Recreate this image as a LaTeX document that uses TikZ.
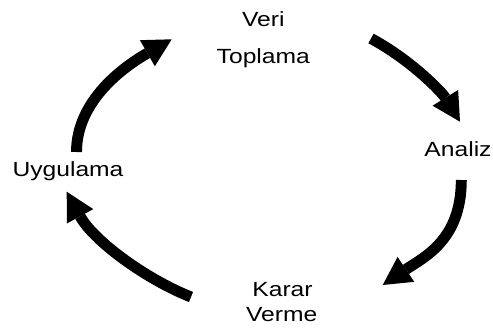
\documentclass[tikz,border=0pt]{standalone}
\usepackage{fontspec}
\setmainfont{Liberation Sans}[FakeStretch=1.2]
\usetikzlibrary{arrows.meta}

\tikzset{
  cyclearrow/.style={line width=8.2pt,-{Triangle[length=21pt,width=22.5pt,line width=0pt]}},
  steplabel/.style={anchor=base,inner sep=0pt,font=\fontsize{15.4}{18}\selectfont}
}

\begin{document}
\begin{tikzpicture}[x=0.75pt,y=0.75pt,yscale=-1,xscale=1]
\useasboundingbox (0,0) rectangle (493,329);

% Text Node
\node[steplabel] (veri) at (263.3,26.7) {Veri};
% Text Node
\node[steplabel] (toplama) at (263.3,63.3) {Toplama};
% Text Node
\node[steplabel] (analiz) at (458,156) {Analiz};
% Text Node
\node[steplabel] (karar) at (282.5,296.7) {Karar};
% Text Node
\node[steplabel] (verme) at (281.7,321.7) {Verme};
% Text Node
\node[steplabel] (uygulama) at (68,176.7) {Uygulama};

%Arrow ends
\coordinate (uStart) at (76.5,152);
\coordinate (vEnd) at (171.7,39.3);
\coordinate (vStart) at (371,38.5);
\coordinate (aEnd) at (460,121.7);
\coordinate (aStart) at (461.3,180);
\coordinate (kEnd) at (382.7,285);
\coordinate (kStart) at (191,297);
\coordinate (uEnd) at (66.7,191.7);

%Curve Lines
\draw[cyclearrow] (uStart) .. controls (76.5,100) and (125,66) .. (vEnd);
%Curve Lines
\draw[cyclearrow] (vStart) .. controls (410.6,59.7) and (441.7,91.9) .. (aEnd);
%Curve Lines
\draw[cyclearrow] (aStart) .. controls (461.3,240) and (424.2,257.1) .. (kEnd);
%Curve Lines
\draw[cyclearrow] (kStart) .. controls (144.5,278.5) and (93,240) .. (uEnd);

\end{tikzpicture}
\end{document}
